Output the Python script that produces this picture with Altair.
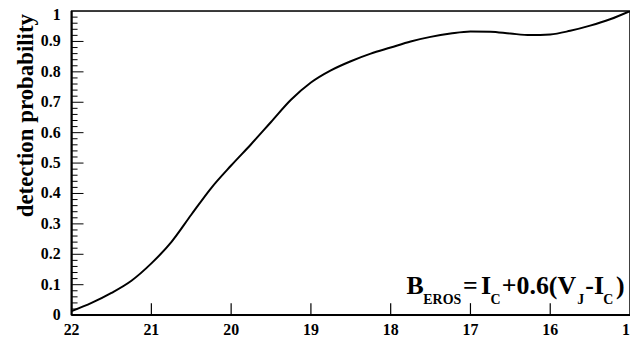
import altair as alt
import pandas as pd

# magnitude (x) and detection probability (y)
mag = [22.0, 21.75, 21.5, 21.25, 21.0, 20.75, 20.5, 20.25, 20.0, 19.75, 19.5, 19.25,
       19.0, 18.75, 18.5, 18.25, 18.0, 17.75, 17.5, 17.25, 17.0, 16.75, 16.5, 16.25,
       16.0, 15.75, 15.5, 15.25, 15.0]
prob = [0.013, 0.04, 0.073, 0.113, 0.17, 0.24, 0.33, 0.418, 0.492, 0.562, 0.635, 0.708,
        0.765, 0.805, 0.835, 0.86, 0.88, 0.90, 0.915, 0.926, 0.933, 0.932, 0.926, 0.921,
        0.923, 0.935, 0.952, 0.973, 1.0]

x_ticks = [15, 16, 17, 18, 19, 20, 21, 22]
y_ticks = [0, 0.1, 0.2, 0.3, 0.4, 0.5, 0.6, 0.7, 0.8, 0.9]
y_top = [1]
x_inner_ticks = [21, 20, 19, 18, 17, 16]
y_major_inner = [0.1, 0.2, 0.3, 0.4, 0.5, 0.6, 0.7, 0.8, 0.9]
y_minor_inner = [round(i * 0.02, 2) for i in range(1, 50) if i % 5 != 0]
y_title = "detection probability"

FONT = "Liberation Serif"
W, H = 562, 306

xscale = alt.Scale(domain=[15, 22], reverse=True, nice=False, zero=False)
yscale = alt.Scale(domain=[0, 1], nice=False)

df = pd.DataFrame({"mag": mag, "prob": prob})

line = alt.Chart(df).mark_line(color="black", strokeWidth=2, interpolate="monotone", clip=True).encode(
    x=alt.X("mag:Q", scale=xscale, axis=None),
    y=alt.Y("prob:Q", scale=yscale, axis=None),
)

# inward ticks
xt = alt.Chart(pd.DataFrame({"t": x_inner_ticks})).mark_rule(color="black", strokeWidth=1.2).encode(
    x=alt.X("t:Q", scale=xscale, axis=None),
    y=alt.value(H), y2=alt.value(H - 12),
)
ytM = alt.Chart(pd.DataFrame({"t": y_major_inner})).mark_rule(color="black", strokeWidth=1).encode(
    y=alt.Y("t:Q", scale=yscale, axis=None),
    x=alt.value(0), x2=alt.value(12),
)
ytm = alt.Chart(pd.DataFrame({"t": y_minor_inner})).mark_rule(color="black", strokeWidth=1).encode(
    y=alt.Y("t:Q", scale=yscale, axis=None),
    x=alt.value(0), x2=alt.value(6),
)

# tick labels drawn through the same scales
xl = alt.Chart(pd.DataFrame({"t": x_ticks})).mark_text(
    font=FONT, fontWeight="bold", fontSize=16, color="black", align="center", baseline="alphabetic"
).encode(x=alt.X("t:Q", scale=xscale, axis=None), y=alt.value(H + 20), text=alt.Text("t:Q", format="d"))
yl = alt.Chart(pd.DataFrame({"t": y_ticks})).mark_text(
    font=FONT, fontWeight="bold", fontSize=16, color="black", align="right", baseline="middle"
).encode(y=alt.Y("t:Q", scale=yscale, axis=None), x=alt.value(-11), text=alt.Text("t:Q", format="~g"))
ytl = alt.Chart(pd.DataFrame({"t": y_top})).mark_text(
    font=FONT, fontWeight="bold", fontSize=16, color="black", align="right", baseline="middle", dy=4
).encode(y=alt.Y("t:Q", scale=yscale, axis=None), x=alt.value(-11), text=alt.Text("t:Q", format="~g"))

title = alt.Chart(pd.DataFrame({"s": [y_title]})).mark_text(
    font=FONT, fontWeight="bold", fontSize=23, color="black", angle=270, align="right", baseline="middle"
).encode(text="s:N", x=alt.value(-46), y=alt.value(3))

frame = alt.Chart(pd.DataFrame({"f": [0]})).mark_rect(
    fillOpacity=0, stroke="black", strokeWidth=1.5
).encode(x=alt.value(0), x2=alt.value(W), y=alt.value(0), y2=alt.value(H))
left_edge = alt.Chart(pd.DataFrame({"f": [0]})).mark_rule(color="black", strokeWidth=2).encode(
    x=alt.value(0), y=alt.value(0), y2=alt.value(H))
bottom_edge = alt.Chart(pd.DataFrame({"f": [0]})).mark_rule(color="black", strokeWidth=2).encode(
    x=alt.value(0), x2=alt.value(W), y=alt.value(H))

# formula annotation: (text, left x in plot px, baseline y in plot px, size)
segments = [
    ("B", 337, 285, 26),
    ("EROS", 354, 295, 14),
    ("=", 394, 285, 26),
    ("I", 412, 285, 26),
    ("C", 421.5, 295, 14),
    ("+0.6(V", 433, 285, 26),
    ("J", 509, 295, 14),
    ("-I", 517, 285, 26),
    ("C", 535, 295, 14),
    (")", 548, 285, 26),
]
texts = []
for s, px, py, sz in segments:
    texts.append(
        alt.Chart(pd.DataFrame({"s": [s]})).mark_text(
            align="left", baseline="alphabetic", font=FONT, fontWeight="bold", fontSize=sz, color="black"
        ).encode(text="s:N", x=alt.value(px), y=alt.value(py))
    )

chart = alt.layer(line, xt, ytM, ytm, xl, yl, ytl, title, frame, left_edge, bottom_edge, *texts).properties(
    width=W, height=H,
    background="white",
    autosize=alt.AutoSizeParams(type="none"),
    padding={"left": 64, "top": 2, "right": 0, "bottom": 24},
)

chart.save("out.html", embed_options={"renderer": "svg", "actions": False})
